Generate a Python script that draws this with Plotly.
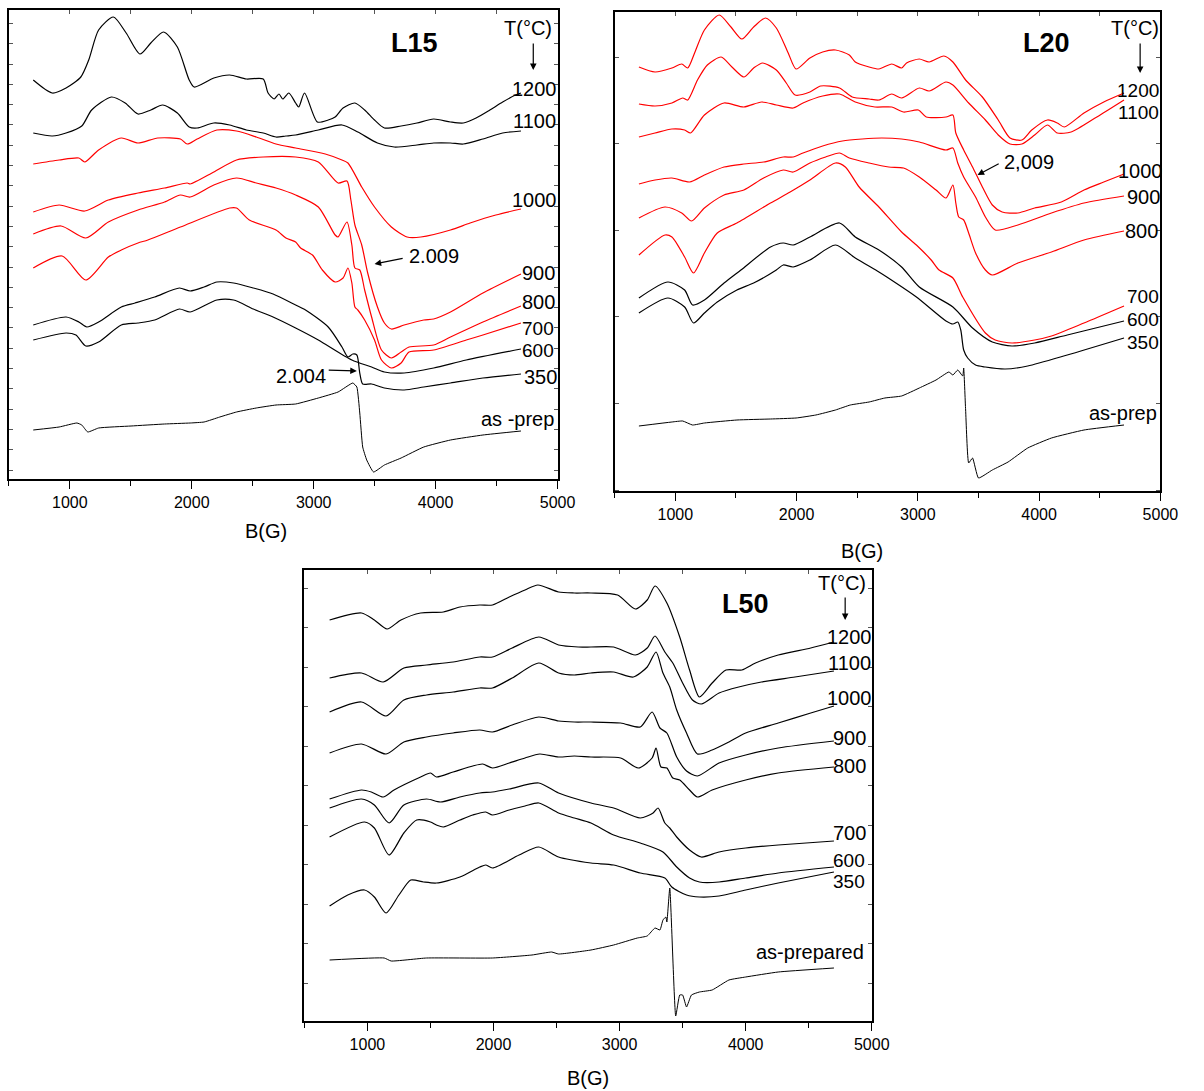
import plotly.graph_objects as go

# ---------------- data (B in gauss, EPR signal in arbitrary units, offset-stacked) ----------------
# Panel L15
L15_1200_B = [700, 856, 969, 1090, 1155, 1236, 1357, 1462, 1575, 1664, 1769, 1882, 1979, 2020, 2181, 2311, 2448, 2586, 2626, 2675, 2715, 2747, 2796, 2852, 2877, 2925, 3030, 3119, 3176, 3241, 3338, 3418, 3499, 3580, 3717, 3847, 3984, 4122, 4227, 4332, 4445, 4550, 4655, 4700]
L15_1200_I = [399, 386, 391, 402, 419, 449, 462, 446, 425, 436, 447, 432, 399, 392, 401, 404, 400, 400, 386, 380, 385, 380, 386, 376, 372, 386, 357, 359, 362, 371, 376, 369, 359, 351, 353, 356, 360, 357, 356, 361, 369, 377, 384, 386]
L15_1100_B = [700, 856, 969, 1098, 1179, 1341, 1454, 1559, 1664, 1761, 1882, 1979, 2044, 2181, 2311, 2448, 2586, 2691, 2772, 2852, 3038, 3232, 3362, 3523, 3661, 3847, 3984, 4122, 4227, 4388, 4550, 4700]
L15_1100_I = [346, 343, 346, 353, 369, 382, 376, 365, 369, 374, 366, 352, 351, 356, 354, 349, 346, 342, 343, 344, 349, 354, 347, 336, 332, 334, 336, 336, 335, 340, 346, 348]
L15_1000_B = [700, 912, 1074, 1122, 1236, 1422, 1559, 1721, 1907, 1963, 2044, 2206, 2367, 2529, 2691, 2852, 3095, 3232, 3281, 3394, 3499, 3637, 3766, 3879, 4122, 4283, 4494, 4700]
L15_1000_I = [315, 319, 321, 317, 329, 341, 336, 341, 340, 335, 340, 349, 348, 342, 335, 331, 325, 319, 316, 292, 272, 252, 242, 242, 249, 256, 264, 270]
L15_900_B = [700, 912, 1122, 1316, 1559, 1777, 1963, 1987, 2181, 2367, 2586, 2852, 3038, 3200, 3273, 3305, 3338, 3394, 3443, 3523, 3580, 3637, 3742, 3903, 3984, 4122, 4388, 4700]
L15_900_I = [267, 274, 268, 279, 286, 291, 296, 295, 307, 319, 322, 322, 317, 296, 298, 279, 254, 234, 206, 172, 156, 150, 154, 159, 160, 167, 186, 205]
L15_800_B = [700, 928, 1131, 1316, 1559, 1777, 1907, 1987, 2181, 2367, 2529, 2691, 2852, 3038, 3176, 3200, 3273, 3313, 3338, 3378, 3418, 3475, 3556, 3637, 3717, 3782, 3984, 4122, 4388, 4700]
L15_800_I = [245, 253, 241, 257, 269, 277, 284, 282, 294, 301, 296, 291, 284, 272, 244, 242, 257, 234, 211, 209, 189, 162, 129, 121, 127, 132, 134, 142, 157, 173]
L15_700_B = [700, 937, 1131, 1316, 1422, 1559, 1640, 1907, 2311, 2367, 2472, 2691, 2772, 2852, 2893, 2990, 3071, 3176, 3241, 3281, 3313, 3338, 3362, 3418, 3499, 3556, 3637, 3717, 3782, 3984, 4251, 4388, 4700]
L15_700_I = [211, 223, 199, 222, 229, 236, 239, 252, 271, 271, 259, 249, 241, 237, 231, 224, 209, 197, 201, 211, 196, 172, 169, 159, 139, 119, 111, 116, 127, 129, 139, 144, 156]
L15_600_B = [700, 969, 1050, 1131, 1236, 1422, 1559, 1696, 1899, 1987, 2206, 2343, 2505, 2667, 2852, 3038, 3313, 3475, 3580, 3742, 3984, 4251, 4700]
L15_600_I = [139, 146, 144, 133, 137, 154, 156, 159, 170, 167, 179, 179, 170, 162, 151, 139, 119, 112, 107, 106, 111, 119, 130]
L15_350_B = [700, 969, 1074, 1139, 1236, 1422, 1535, 1696, 1899, 1987, 2101, 2206, 2343, 2505, 2667, 2852, 2933, 3119, 3232, 3281, 3321, 3354, 3378, 3402, 3475, 3580, 3742, 3903, 4122, 4388, 4700]
L15_350_I = [154, 162, 157, 152, 157, 172, 176, 182, 191, 188, 192, 197, 196, 191, 185, 174, 169, 152, 132, 122, 125, 124, 106, 95, 95, 91, 89, 92, 96, 101, 105]
L15_prep_B = [700, 912, 1058, 1098, 1147, 1236, 1502, 1777, 1987, 2101, 2230, 2367, 2529, 2691, 2852, 3038, 3200, 3321, 3354, 3378, 3402, 3435, 3491, 3580, 3717, 3903, 4122, 4388, 4700]
L15_prep_I = [49, 52, 56, 54, 47, 51, 53, 55, 56, 57, 62, 67, 71, 74, 75, 81, 87, 96, 92, 66, 32, 19, 7, 14, 21, 32, 39, 44, 48]

# Panel L20
L20_1200_B = [700, 833, 972, 1053, 1102, 1159, 1240, 1362, 1459, 1549, 1646, 1744, 1833, 1931, 1996, 2110, 2215, 2321, 2435, 2484, 2598, 2679, 2785, 2866, 2907, 3012, 3093, 3215, 3289, 3394, 3532, 3663, 3760, 3858, 3939, 4069, 4150, 4207, 4370, 4533, 4700]
L20_1200_I = [424, 419, 423, 427, 423, 438, 461, 476, 464, 452, 464, 473, 463, 438, 422, 433, 439, 441, 436, 429, 424, 422, 427, 423, 428, 432, 429, 435, 429, 411, 394, 371, 353, 351, 361, 371, 368, 364, 378, 389, 398]
L20_1100_B = [700, 833, 972, 1061, 1102, 1183, 1264, 1378, 1467, 1565, 1646, 1720, 1833, 1915, 1988, 2110, 2199, 2354, 2459, 2598, 2679, 2785, 2866, 3012, 3093, 3232, 3289, 3419, 3557, 3663, 3760, 3858, 3963, 4069, 4150, 4264, 4476, 4700]
L20_1100_I = [387, 385, 388, 393, 391, 411, 426, 434, 424, 414, 423, 428, 421, 408, 396, 399, 405, 403, 394, 392, 391, 397, 393, 403, 400, 409, 406, 388, 371, 356, 347, 347, 356, 366, 358, 359, 374, 391]
L20_1000_B = [700, 833, 972, 1077, 1126, 1240, 1402, 1565, 1711, 1833, 1972, 2053, 2215, 2354, 2484, 2646, 2785, 2882, 3004, 3069, 3232, 3289, 3313, 3378, 3451, 3532, 3614, 3695, 3825, 3963, 4183, 4370, 4533, 4700]
L20_1000_I = [354, 358, 362, 361, 358, 376, 388, 384, 389, 386, 383, 388, 395, 397, 389, 384, 384, 379, 381, 374, 374, 376, 358, 341, 324, 304, 286, 279, 278, 283, 289, 301, 309, 317]
L20_900_B = [700, 833, 972, 1118, 1240, 1402, 1565, 1728, 1890, 1972, 2053, 2215, 2378, 2541, 2703, 2866, 3012, 3232, 3289, 3329, 3378, 3476, 3557, 3638, 3825, 4102, 4370, 4700]
L20_900_I = [307, 311, 313, 309, 316, 324, 327, 329, 334, 334, 338, 345, 350, 352, 353, 352, 349, 341, 343, 328, 314, 294, 274, 261, 266, 278, 288, 295]
L20_800_B = [700, 915, 1053, 1134, 1240, 1402, 1565, 1728, 1890, 1972, 2110, 2240, 2354, 2435, 2598, 2760, 2882, 3012, 3150, 3232, 3289, 3313, 3337, 3378, 3419, 3476, 3557, 3614, 3825, 4102, 4370, 4700]
L20_800_I = [273, 284, 278, 270, 283, 296, 301, 313, 321, 319, 328, 334, 338, 333, 328, 324, 323, 314, 301, 293, 306, 288, 274, 271, 258, 238, 221, 216, 228, 239, 251, 260]
L20_700_B = [700, 915, 972, 1077, 1150, 1240, 1346, 1508, 1785, 1947, 2110, 2321, 2402, 2516, 2679, 2866, 2988, 3110, 3175, 3289, 3370, 3557, 3638, 3776, 3963, 4102, 4370, 4700]
L20_700_I = [236, 256, 254, 234, 218, 238, 258, 268, 288, 299, 311, 328, 324, 304, 284, 259, 246, 231, 221, 213, 194, 158, 151, 148, 151, 155, 168, 185]
L20_600_B = [700, 939, 1077, 1142, 1240, 1402, 1541, 1785, 1890, 1972, 2110, 2354, 2484, 2679, 2866, 3012, 3289, 3451, 3614, 3776, 3963, 4232, 4700]
L20_600_I = [193, 209, 201, 186, 191, 208, 221, 244, 248, 246, 254, 268, 254, 241, 224, 204, 184, 163, 149, 145, 148, 156, 170]
L20_350_B = [700, 939, 1077, 1150, 1240, 1346, 1508, 1646, 1833, 1890, 1972, 2110, 2321, 2484, 2679, 2744, 2988, 3232, 3289, 3329, 3354, 3378, 3411, 3476, 3557, 3720, 3906, 4232, 4700]
L20_350_I = [178, 193, 184, 168, 178, 189, 201, 208, 221, 226, 224, 231, 246, 233, 219, 214, 194, 170, 167, 169, 161, 141, 133, 126, 124, 122, 125, 136, 153]
L20_prep_B = [700, 972, 1061, 1142, 1240, 1508, 1785, 1996, 2159, 2321, 2443, 2598, 2728, 2866, 3012, 3150, 3256, 3289, 3329, 3370, 3378, 3394, 3419, 3451, 3500, 3614, 3744, 3906, 4102, 4370, 4700]
L20_prep_I = [65, 69, 70, 66, 68, 71, 72, 73, 76, 81, 86, 89, 93, 95, 103, 111, 119, 116, 121, 115, 123, 81, 28, 33, 13, 21, 29, 43, 53, 61, 66]

# Panel L50
L50_1200_B = [700, 953, 1055, 1156, 1266, 1422, 1602, 1734, 1891, 1992, 2125, 2250, 2352, 2516, 2641, 2773, 2984, 3125, 3219, 3281, 3375, 3477, 3555, 3633, 3734, 3844, 3969, 4078, 4258, 4516, 4700]
L50_1200_I = [401, 408, 401, 392, 401, 408, 409, 414, 416, 416, 424, 431, 436, 429, 428, 428, 426, 412, 421, 435, 418, 384, 351, 324, 338, 351, 351, 358, 366, 373, 379]
L50_1100_B = [700, 953, 1125, 1289, 1469, 1680, 1891, 1992, 2148, 2359, 2516, 2672, 2773, 2953, 3125, 3219, 3281, 3359, 3422, 3500, 3578, 3648, 3789, 3945, 4125, 4391, 4700]
L50_1100_I = [343, 348, 339, 353, 356, 359, 364, 364, 373, 384, 376, 374, 374, 374, 366, 373, 385, 369, 358, 338, 321, 317, 328, 334, 339, 344, 350]
L50_1000_B = [700, 953, 1148, 1289, 1469, 1680, 1891, 1992, 2148, 2359, 2516, 2641, 2773, 2953, 3109, 3219, 3289, 3344, 3398, 3453, 3531, 3617, 3734, 3867, 4000, 4258, 4516, 4700]
L50_1000_I = [309, 319, 305, 321, 326, 329, 333, 333, 343, 358, 348, 346, 348, 349, 344, 354, 369, 348, 334, 311, 288, 267, 271, 279, 288, 298, 308, 315]
L50_900_B = [700, 953, 1148, 1289, 1469, 1680, 1891, 1992, 2148, 2359, 2516, 2641, 2773, 3008, 3164, 3258, 3320, 3375, 3453, 3531, 3617, 3789, 4000, 4258, 4700]
L50_900_I = [268, 277, 267, 279, 284, 288, 291, 289, 296, 304, 300, 299, 299, 298, 294, 309, 293, 288, 264, 250, 245, 258, 266, 273, 280]
L50_800_B = [700, 953, 1031, 1125, 1211, 1422, 1500, 1547, 1680, 1836, 1914, 1992, 2125, 2250, 2367, 2516, 2641, 2773, 3008, 3148, 3258, 3289, 3328, 3375, 3422, 3477, 3555, 3617, 3734, 4000, 4258, 4700]
L50_800_I = [222, 231, 229, 224, 231, 244, 248, 244, 249, 255, 257, 253, 258, 263, 267, 264, 265, 264, 263, 253, 263, 273, 254, 253, 243, 241, 231, 224, 231, 241, 248, 254]
L50_700_B = [700, 953, 1055, 1172, 1289, 1469, 1578, 1734, 1891, 1992, 2125, 2359, 2516, 2773, 2953, 3164, 3266, 3305, 3359, 3398, 3453, 3555, 3648, 3789, 4000, 4258, 4700]
L50_700_I = [213, 222, 216, 198, 216, 222, 219, 224, 228, 229, 232, 238, 228, 218, 213, 203, 208, 213, 198, 193, 184, 171, 164, 169, 173, 176, 180]
L50_600_B = [700, 977, 1055, 1172, 1289, 1391, 1500, 1547, 1602, 1734, 1836, 1938, 1992, 2125, 2250, 2359, 2516, 2641, 2773, 2953, 3164, 3344, 3453, 3555, 3633, 3789, 4000, 4258, 4700]
L50_600_I = [184, 199, 193, 166, 188, 201, 199, 196, 194, 201, 206, 209, 206, 211, 215, 218, 208, 203, 198, 186, 178, 169, 154, 143, 139, 139, 143, 148, 154]
L50_350_B = [700, 844, 977, 1055, 1148, 1250, 1344, 1445, 1547, 1734, 1891, 1938, 1992, 2203, 2359, 2516, 2773, 2953, 3164, 3359, 3414, 3531, 3633, 3789, 4000, 4258, 4700]
L50_350_I = [115, 126, 131, 124, 108, 126, 141, 139, 138, 144, 154, 156, 153, 166, 174, 164, 158, 156, 148, 143, 134, 126, 124, 125, 131, 138, 149]
L50_prep_B = [700, 1133, 1188, 1469, 1992, 2305, 2461, 2516, 2773, 2953, 3141, 3219, 3281, 3320, 3344, 3367, 3375, 3398, 3445, 3477, 3500, 3531, 3570, 3633, 3734, 3867, 4000, 4258, 4700]
L50_prep_I = [61, 63, 60, 63, 63, 66, 69, 67, 71, 76, 83, 85, 93, 91, 101, 104, 99, 133, 5, 26, 26, 14, 26, 29, 31, 41, 44, 49, 53]

# curve labels: (text, B position, signal position, font size)
L15_labels = [("1200", 4809, 390, 20), ("1100", 4809, 358, 20), ("1000", 4809, 279, 20), ("900", 4841, 206, 20),
              ("800", 4841, 177, 20), ("700", 4841, 151, 19), ("600", 4841, 129, 19), ("350", 4857, 102, 20),
              ("as -prep", 4671, 60, 20)]
L20_labels = [("1200", 4817, 401, 19), ("1100", 4817, 379, 19), ("1000", 4833, 320, 20), ("900", 4858, 294, 20),
              ("800", 4842, 260, 20), ("700", 4858, 195, 19), ("600", 4858, 172, 19), ("350", 4858, 149, 19),
              ("as-prep", 4695, 78, 20)]
L50_labels = [("1200", 4820, 384, 20), ("1100", 4820, 358, 20), ("1000", 4820, 323, 20), ("900", 4820, 283, 20),
              ("800", 4820, 255, 20), ("700", 4820, 188, 20), ("600", 4820, 161, 19), ("350", 4820, 140, 19),
              ("as-prepared", 4508, 69, 20)]

BLACK = "#000000"
RED = "#ff0000"
FONT = "Liberation Sans, Arial, sans-serif"

fig = go.Figure()


def add(B, I, color, xa, ya, width=1.2, smooth=0.7):
    fig.add_trace(go.Scatter(x=B, y=I, mode="lines",
                             line=dict(color=color, width=width, shape="spline", smoothing=smooth),
                             xaxis=xa, yaxis=ya, showlegend=False, hoverinfo="skip"))


for B, I, c in ((L15_1200_B, L15_1200_I, BLACK), (L15_1100_B, L15_1100_I, BLACK), (L15_1000_B, L15_1000_I, RED),
                (L15_900_B, L15_900_I, RED), (L15_800_B, L15_800_I, RED), (L15_700_B, L15_700_I, RED),
                (L15_600_B, L15_600_I, BLACK), (L15_350_B, L15_350_I, BLACK)):
    add(B, I, c, "x", "y")
add(L15_prep_B, L15_prep_I, BLACK, "x", "y", 1.0, 0.4)
for B, I, c in ((L20_1200_B, L20_1200_I, RED), (L20_1100_B, L20_1100_I, RED), (L20_1000_B, L20_1000_I, RED),
                (L20_900_B, L20_900_I, RED), (L20_800_B, L20_800_I, RED), (L20_700_B, L20_700_I, RED),
                (L20_600_B, L20_600_I, BLACK), (L20_350_B, L20_350_I, BLACK)):
    add(B, I, c, "x2", "y2")
add(L20_prep_B, L20_prep_I, BLACK, "x2", "y2", 1.0, 0.4)
for B, I in ((L50_1200_B, L50_1200_I), (L50_1100_B, L50_1100_I), (L50_1000_B, L50_1000_I),
             (L50_900_B, L50_900_I), (L50_800_B, L50_800_I), (L50_700_B, L50_700_I),
             (L50_600_B, L50_600_I), (L50_350_B, L50_350_I)):
    add(B, I, BLACK, "x3", "y3")
add(L50_prep_B, L50_prep_I, BLACK, "x3", "y3", 1.0, 0.4)

# empty traces so the top (inside) tick axes are drawn
for xa, ya in (("x4", "y"), ("x5", "y2"), ("x6", "y3")):
    fig.add_trace(go.Scatter(x=[], y=[], xaxis=xa, yaxis=ya, showlegend=False, hoverinfo="skip"))


def xstyle(domain, anchor):
    return dict(domain=domain, anchor=anchor, range=[500, 5000], showline=True, linecolor=BLACK,
                linewidth=1.8, mirror=True, ticks="outside", ticklen=8, tickwidth=1.4, tickcolor=BLACK,
                dtick=1000, tick0=0, showgrid=False, zeroline=False,
                minor=dict(ticks="outside", ticklen=5, tickwidth=1.2, tickcolor=BLACK, dtick=500, tick0=0,
                           showgrid=False),
                tickfont=dict(family=FONT, size=16, color=BLACK))


def ystyle(domain, anchor, top, tick0, dtick):
    return dict(domain=domain, anchor=anchor, range=[0, top], showline=True, linecolor=BLACK,
                linewidth=1.8, mirror="ticks", ticks="inside", ticklen=4, tickwidth=1, tickcolor="#555555",
                tick0=tick0, dtick=dtick, showticklabels=False, showgrid=False, zeroline=False)


def topstyle(over, anchor):
    return dict(overlaying=over, anchor=anchor, side="top", range=[500, 5000], ticks="inside", ticklen=4,
                tickwidth=1, tickcolor="#555555", dtick=500, tick0=0, showticklabels=False,
                showline=False, showgrid=False, zeroline=False)


fig.update_layout(
    width=1204, height=1091, autosize=False, margin=dict(l=0, r=0, t=0, b=0, pad=0),
    paper_bgcolor="white", plot_bgcolor="white", showlegend=False,
    font=dict(family=FONT, color=BLACK),
    xaxis=xstyle([0.00748, 0.47010], "y"),
    yaxis=ystyle([0.56095, 0.99129], "x", 469.5, 9, 20.3),
    xaxis2=xstyle([0.51827, 0.97841], "y2"),
    yaxis2=ystyle([0.54995, 0.98900], "x2", 479, 1, 86.6),
    xaxis3=xstyle([0.25664, 0.73505], "y3"),
    yaxis3=ystyle([0.06416, 0.47800], "x3", 451.5, 38, 39.5),
    xaxis4=topstyle("x", "y"),
    xaxis5=topstyle("x2", "y2"),
    xaxis6=topstyle("x3", "y3"),
)

ann = []


def label(text, x, y, xr, yr, size=20, bold=False):
    ann.append(dict(text=("<b>%s</b>" % text) if bold else text, x=x, y=y, xref=xr, yref=yr,
                    showarrow=False, xanchor="center", yanchor="middle",
                    font=dict(family=FONT, size=size, color=BLACK)))


def arrow(x, y, ax, ay, xr, yr):
    ann.append(dict(text="", x=x, y=y, ax=ax, ay=ay, xref=xr, yref=yr, axref=xr, ayref=yr,
                    showarrow=True, arrowhead=2, arrowsize=1.1, arrowwidth=1.2, arrowcolor=BLACK))


for t, b, i, s in L15_labels:
    label(t, b, i, "x", "y", s)
for t, b, i, s in L20_labels:
    label(t, b, i, "x2", "y2", s)
for t, b, i, s in L50_labels:
    label(t, b, i, "x3", "y3", s)

# titles inside panels
label("L15", 3823, 436, "x", "y", size=27, bold=True)
label("L20", 4061, 448, "x2", "y2", size=27, bold=True)
label("L50", 4000, 417, "x3", "y3", size=27, bold=True)
label("T(°C)", 4760, 451, "x", "y")
label("T(°C)", 4793, 463, "x2", "y2")
label("T(°C)", 4766, 438, "x3", "y3")
arrow(4801, 409, 4801, 437, "x", "y")
arrow(4833, 418, 4833, 449, "x2", "y2")
arrow(4789, 401, 4789, 425, "x3", "y3")

# g-factor markers
label("2.009", 3984, 223, "x", "y")
arrow(3499, 215, 3742, 221, "x", "y")
label("2.004", 2893, 103, "x", "y")
arrow(3354, 108, 3111, 109, "x", "y")
label("2,009", 3915, 329, "x2", "y2")
arrow(3492, 316, 3679, 328, "x2", "y2")

# axis titles
for px, py in ((270, 531), (875, 551), (597, 1078)):
    ann.append(dict(text="B(G)", x=px / 1204, y=1 - py / 1091, xref="paper", yref="paper",
                    showarrow=False, xanchor="center", yanchor="middle",
                    font=dict(family=FONT, size=20, color=BLACK)))

fig.update_layout(annotations=ann)
fig.write_html("out.html", config={"displayModeBar": False})
